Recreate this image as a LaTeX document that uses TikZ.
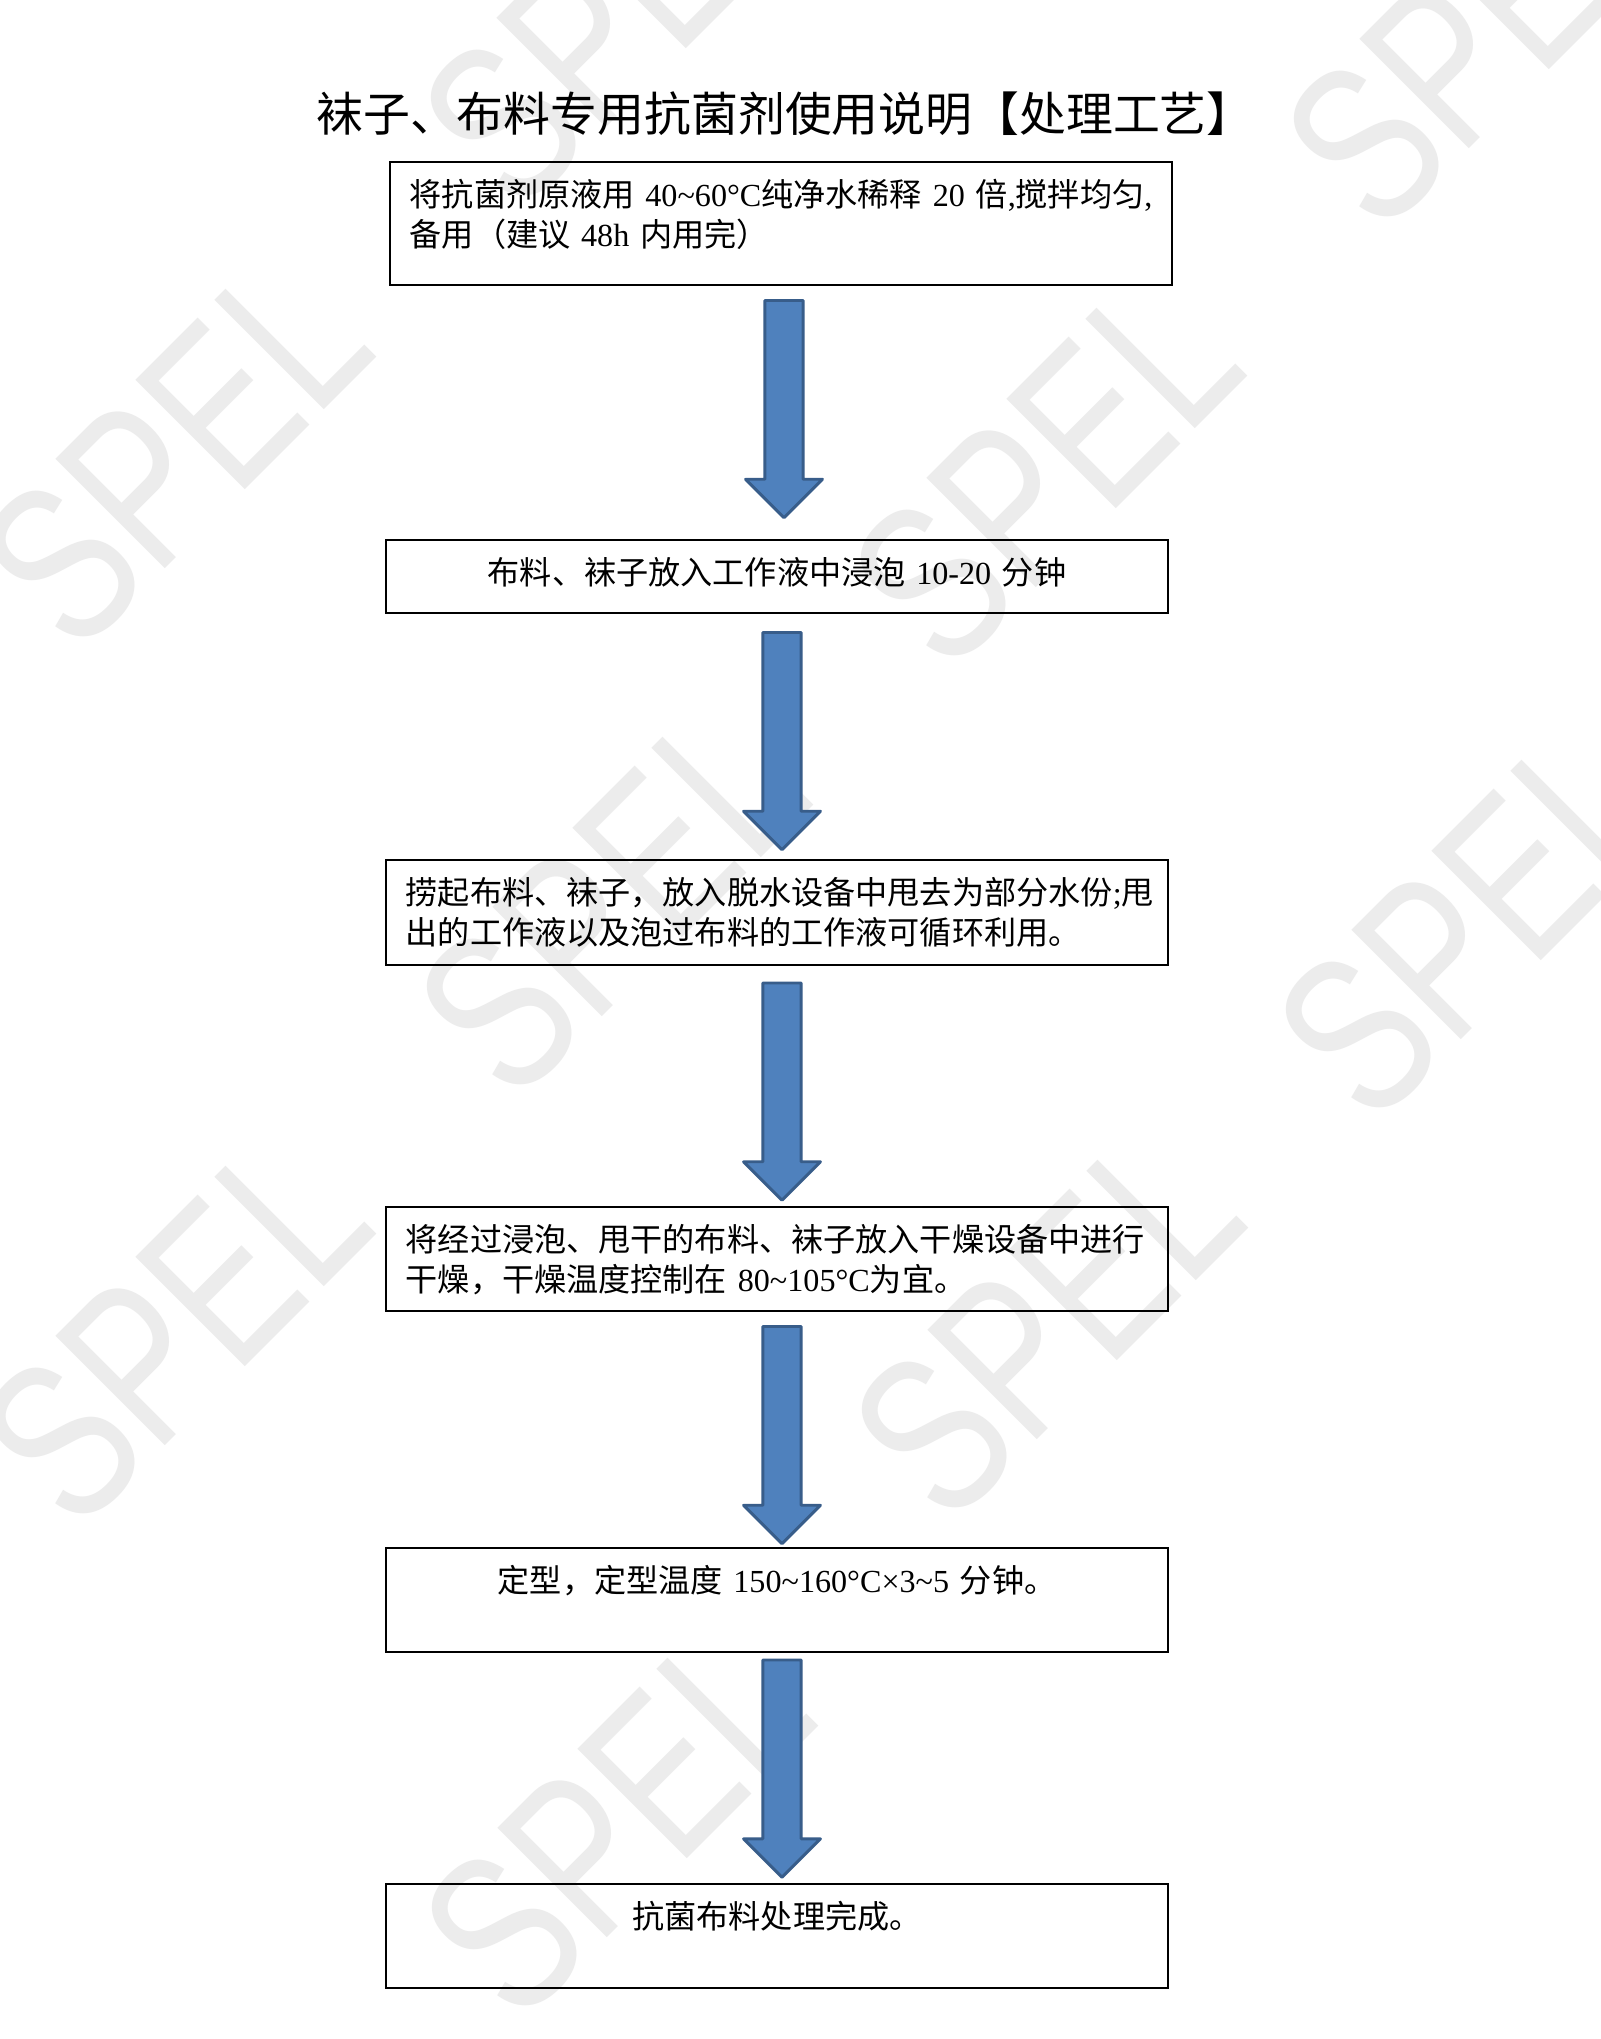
\documentclass[tikz,border=0pt]{standalone}
\usepackage{fontspec}
\setmainfont{Noto Sans CJK SC}
\newfontfamily\lat{Liberation Serif}
\newfontfamily\wmfont[FakeStretch=0.75]{Liberation Sans}
\usetikzlibrary{shapes.arrows,calc}
\definecolor{arrowblue}{HTML}{4F81BD}
\definecolor{arrowedge}{HTML}{385D8A}
\definecolor{wmgray}{RGB}{236,236,236}

\begin{document}
\begin{tikzpicture}[x=0.013125cm,y=-0.013125cm,
  box/.style={draw,line width=0.9pt,inner xsep=0.26cm,inner ysep=0.1cm,text width=9.744cm,text height=0.478cm,font=\fontsize{12pt}{15pt}\selectfont},
  flowarrow/.style={single arrow,draw=arrowedge,fill=arrowblue,line width=1.1pt,line join=round,rotate=-90,minimum height=2.85cm,minimum width=0.97cm,single arrow head extend=0.2525cm,inner xsep=0pt,inner ysep=0.2325cm},
  wmark/.style={font=\wmfont\fontsize{84pt}{84pt}\selectfont,text=wmgray,rotate=45,inner sep=0pt}]
\useasboundingbox (0,0) rectangle (1600,2039);
\fill[white] (0,0) rectangle (1600,2039);
% watermark
\begin{scope}
\clip (0,0) rectangle (1600,2039);
\node[wmark] (w1) at (615,10) {SPEL};
\node[wmark] (w2) at (1478,31) {SPEL};
\node[wmark] (w3) at (174,451) {SPEL};
\node[wmark] (w4) at (1045,470) {SPEL};
\node[wmark] (w5) at (611,899) {SPEL};
\node[wmark] (w6) at (1470,922) {SPEL};
\node[wmark] (w7) at (174,1328) {SPEL};
\node[wmark] (w8) at (1046,1322) {SPEL};
\node[wmark] (w9) at (616,1820) {SPEL};
\end{scope}
% title
\node[font=\fontsize{17.5pt}{22pt}\selectfont] (title) at (785,114) {袜子、布料专用抗菌剂使用说明【处理工艺】};
% steps
\node[box,align=left,text depth=0.936cm] (b1) at (781,223.5) {\mbox{将抗菌剂原液用 {\lat 40\textasciitilde60°C}纯净水稀释 {\lat 20} 倍{\lat ,}搅拌均匀{\lat ,}}\\备用（建议 {\lat 48h} 内用完）};
\node[box,align=center,text depth=0.28cm] (b2) at (777,576.5) {布料、袜子放入工作液中浸泡 {\lat 10-20} 分钟};
\node[box,align=left,text depth=0.70cm] (b3) at (777,912.5) {捞起布料、袜子，放入脱水设备中甩去为部分水份{\lat ;}甩\\出的工作液以及泡过布料的工作液可循环利用。};
\node[box,align=left,text depth=0.687cm] (b4) at (777,1259) {将经过浸泡、甩干的布料、袜子放入干燥设备中进行\\干燥，干燥温度控制在 {\lat 80\textasciitilde105°C}为宜。};
\node[box,align=center,text depth=0.687cm] (b5) at (777,1600) {定型，定型温度 {\lat 150\textasciitilde160°C×3\textasciitilde5} 分钟。};
\node[box,align=center,text depth=0.687cm] (b6) at (777,1936) {抗菌布料处理完成。};
% arrows
\node[flowarrow] (a1) at ($(b1.south)!.5!(b2.north)+(5,-13)$) {};
\node[flowarrow] (a2) at ($(b2.south)!.5!(b3.north)+(5,-5)$) {};
\node[flowarrow] (a3) at ($(b3.south)!.5!(b4.north)+(5,-4)$) {};
\node[flowarrow] (a4) at ($(b4.south)!.5!(b5.north)+(5,-4)$) {};
\node[flowarrow] (a5) at ($(b5.south)!.5!(b6.north)+(5,-9)$) {};
\end{tikzpicture}
\end{document}
